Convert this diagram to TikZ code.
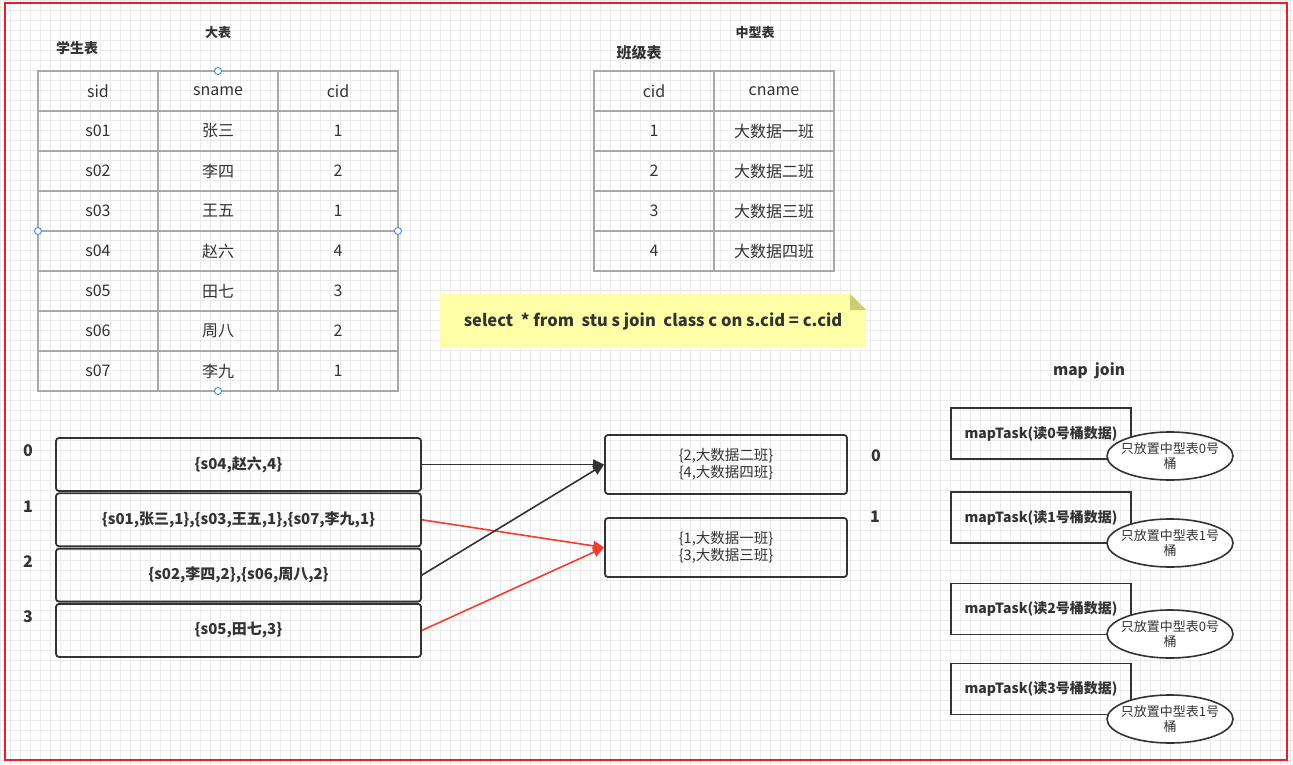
\documentclass[tikz,border=0pt]{standalone}
\usepackage{fontspec}
\setmainfont{Noto Sans CJK SC}
\usetikzlibrary{shapes.geometric, arrows.meta}

\definecolor{txt}{HTML}{333333}
\definecolor{cellline}{HTML}{A8A8A8}
\definecolor{frame}{HTML}{E8202A}
\definecolor{hotline}{HTML}{F23C2E}
\definecolor{notefill}{HTML}{FFFFA8}
\definecolor{notefold}{HTML}{CCCC78}
\definecolor{handle}{HTML}{3C8CE6}

\begin{document}
\begin{tikzpicture}[x=1pt, y=-1pt, >={Triangle[length=11pt, width=10pt]},
    cell/.style={draw=cellline, line width=1.2pt, minimum width=120pt,
        minimum height=40pt, inner sep=0pt, text=txt,
        font=\fontsize{16}{19}\selectfont},
    caption/.style={text=txt, font=\bfseries\fontsize{13}{16}\selectfont},
    bucket/.style={draw=txt, line width=1.8pt, rounded corners=3pt,
        minimum width=365pt, minimum height=53pt, inner sep=0pt, text=txt,
        font=\bfseries\fontsize{15}{18}\selectfont},
    cbucket/.style={draw=txt, line width=1.8pt, rounded corners=3pt,
        minimum width=242pt, minimum height=59pt, inner sep=0pt, text=txt,
        align=center, font=\fontsize{14.5}{17}\selectfont},
    idx/.style={text=txt, font=\bfseries\fontsize{16}{19}\selectfont},
    task/.style={draw=txt, line width=1.8pt, minimum width=180pt,
        minimum height=51pt, inner sep=0pt, text=txt,
        font=\bfseries\fontsize{14}{17}\selectfont},
    hint/.style={ellipse, draw=txt, line width=1.6pt, fill=white,
        minimum width=126pt, minimum height=48pt, inner xsep=-8pt,
        inner ysep=2pt, align=center, text=txt,
        font=\fontsize{13}{15}\selectfont},
    link/.style={->, line width=1.6pt, draw=txt},
    hotlink/.style={->, line width=1.6pt, draw=hotline, fill=hotline}]

\useasboundingbox (0,0) rectangle (1293,765);
\draw[gray!16, line width=0.6pt] (0,0) grid[step=10pt] (1293,765);
\draw[frame, line width=1.6pt] (5,3) rectangle (1287,760);

\node[caption, font=\bfseries\fontsize{14}{17}\selectfont] (stu-title) at (77,48) {学生表};
\node[caption] (big-title) at (218,33) {大表};
\node[caption] (mid-title) at (755,33) {中型表};
\node[caption, font=\bfseries\fontsize{15}{18}\selectfont] (cls-title) at (639,53) {班级表};
\node[caption, font=\bfseries\fontsize{15.5}{18}\selectfont] (mapjoin) at (1089,371) {map\ \ join};

\foreach \a/\b/\c [count=\r from 0] in {sid/sname/cid, s01/张三/1, s02/李四/2,
        s03/王五/1, s04/赵六/4, s05/田七/3, s06/周八/2, s07/李九/1} {
    \node[cell] (stu-\r-1) at (98, 91+40*\r) {\a};
    \node[cell] (stu-\r-2) at (218, 91+40*\r) {\b};
    \node[cell] (stu-\r-3) at (338, 91+40*\r) {\c};
}

\foreach \a/\b [count=\r from 0] in {cid/cname, 1/大数据一班, 2/大数据二班,
        3/大数据三班, 4/大数据四班} {
    \node[cell] (cls-\r-1) at (654, 91+40*\r) {\a};
    \node[cell] (cls-\r-2) at (774, 91+40*\r) {\b};
}

\foreach \p in {(218,71), (218,391), (38,231), (398,231)}
    \draw[handle, fill=white, line width=0.9pt] \p circle (3.5pt);

\fill[notefill] (440,294) -- (850,294) -- (866,310) -- (866,347) -- (440,347) -- cycle;
\fill[notefold] (850,294) -- (866,310) -- (850,310) -- cycle;
\node[text=txt, font=\bfseries\fontsize{16.5}{19}\selectfont] (sql) at (653,321)
    {select\ \ * from\ \ stu s join\ \ class c on s.cid = c.cid};

\foreach \t [count=\i from 0] in {{\{s04,赵六,4\}},
        {\{s01,张三,1\},\{s03,王五,1\},\{s07,李九,1\}},
        {\{s02,李四,2\},\{s06,周八,2\}}, {\{s05,田七,3\}}} {
    \node[bucket] (bucket-\i) at (238.5, 464.5+55.3*\i) {\t};
    \node[idx] (bucketno-\i) at (28, 451+55.3*\i) {\i};
}

\node[cbucket] (cbucket-0) at (726,464.5) {\{2,大数据二班\}\\\{4,大数据四班\}};
\node[cbucket] (cbucket-1) at (726,547.5) {\{1,大数据一班\}\\\{3,大数据三班\}};
\node[idx] (cbucketno-0) at (876,456) {0};
\node[idx] (cbucketno-1) at (875,517) {1};

\draw[link] (bucket-0.east) -- (cbucket-0.west);
\draw[hotlink] (bucket-1.east) -- (cbucket-1.west);
\draw[link] (bucket-2.east) -- (cbucket-0.west);
\draw[hotlink] (bucket-3.east) -- (cbucket-1.west);

\foreach \k/\ty/\e/\hy in {0/433.5/0/456, 1/517.5/1/543, 2/609/0/634, 3/689/1/719} {
    \node[task] (task-\k) at (1041,\ty) {mapTask(读{\k}号桶数据)};
    \node[hint] (hint-\k) at (1170,\hy) {只放置中型表{\e}号\\桶};
}

\end{tikzpicture}
\end{document}
